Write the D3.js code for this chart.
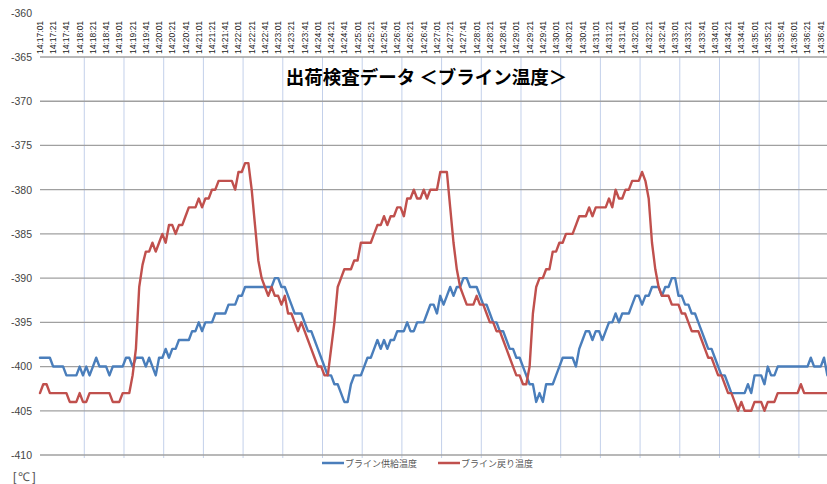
<!DOCTYPE html>
<html><head><meta charset="utf-8">
<script src="https://cdn.jsdelivr.net/npm/d3@7"></script>
<style>
html,body{margin:0;padding:0;background:#fff;}
svg{display:block;}
</style></head>
<body>
<svg id="chart" width="827" height="484"></svg>
<script>
// ---- data ----
const chartTitle = "出荷検査データ ＜ブライン温度＞";
const seriesNames = ["ブライン供給温度", "ブライン戻り温度"];
const unitLabel = "[℃]";
const timeLabels = [
"14:17:01","14:17:21","14:17:41","14:18:01","14:18:21","14:18:41","14:19:01","14:19:21","14:19:41","14:20:01",
"14:20:21","14:20:41","14:21:01","14:21:21","14:21:41","14:22:01","14:22:21","14:22:41","14:23:01","14:23:21",
"14:23:41","14:24:01","14:24:21","14:24:41","14:25:01","14:25:21","14:25:41","14:26:01","14:26:21","14:26:41",
"14:27:01","14:27:21","14:27:41","14:28:01","14:28:21","14:28:41","14:29:01","14:29:21","14:29:41","14:30:01",
"14:30:21","14:30:41","14:31:01","14:31:21","14:31:41","14:32:01","14:32:21","14:32:41","14:33:01","14:33:21",
"14:33:41","14:34:01","14:34:21","14:34:41","14:35:01","14:35:21","14:35:41","14:36:01","14:36:21","14:36:41"];
const yTicks = [-360,-365,-370,-375,-380,-385,-390,-395,-400,-405,-410];
const sampleStartTime = "14:17:01";
const sampleStepSeconds = 5;
const supplyTemp = [
-399,-399,-399,-399,-400,-400,-400,-400,-401,-401,
-401,-401,-400,-401,-400,-401,-400,-399,-400,-400,
-400,-401,-400,-400,-400,-400,-399,-399,-400,-399,
-399,-399,-400,-399,-400,-401,-399,-399,-398,-399,
-398,-398,-397,-397,-397,-397,-396,-396,-395,-396,
-395,-395,-395,-394,-394,-394,-394,-393,-393,-393,
-392,-392,-391,-391,-391,-391,-391,-391,-391,-391,
-391,-390,-390,-391,-391,-392,-393,-394,-394,-394,
-395,-396,-396,-397,-398,-399,-400,-401,-401,-402,
-402,-403,-404,-404,-402,-401,-401,-401,-400,-399,
-399,-398,-397,-398,-397,-398,-397,-397,-396,-396,
-396,-395,-396,-396,-395,-395,-395,-394,-393,-393,
-394,-392,-393,-392,-391,-392,-391,-391,-390,-390,
-391,-391,-391,-392,-393,-393,-394,-395,-395,-396,
-396,-397,-398,-398,-399,-399,-400,-401,-402,-402,
-404,-403,-404,-402,-402,-402,-401,-400,-399,-399,
-399,-399,-400,-398,-397,-396,-396,-397,-396,-396,
-397,-396,-395,-395,-394,-395,-394,-394,-394,-393,
-392,-392,-393,-392,-392,-391,-391,-391,-392,-391,
-391,-390,-390,-392,-392,-393,-393,-394,-394,-395,
-396,-397,-398,-398,-399,-400,-401,-401,-402,-403,
-403,-403,-403,-403,-402,-403,-401,-401,-401,-402,
-400,-401,-401,-400,-400,-400,-400,-400,-400,-400,
-400,-400,-400,-399,-400,-400,-400,-399,-401];
const returnTemp = [
-403,-402,-402,-403,-403,-403,-403,-403,-403,-404,
-404,-404,-403,-404,-404,-403,-403,-403,-403,-403,
-403,-403,-404,-404,-404,-403,-403,-403,-401,-398,
-391,-388.5,-387,-387,-386,-387,-386,-385,-386,-384,
-384,-385,-384,-384,-383,-382,-382,-382,-381,-382,
-381,-381,-380,-380,-379,-379,-379,-379,-379,-380,
-378,-378,-377,-377,-380,-384,-388,-390,-391,-392,
-391,-392,-392,-393,-392,-394,-394,-395,-396,-395,
-396,-397,-398,-399,-400,-400,-401,-401,-398,-395,
-391,-390,-389,-389,-389,-388,-388,-386,-386,-386,
-386,-385,-384,-384,-383,-384,-383,-383,-382,-382,
-383,-381,-381,-380,-381,-381,-380,-381,-380,-380,
-380,-378,-378,-378,-382,-386,-389,-391,-392,-393,
-393,-393,-392,-393,-393,-394,-395,-395,-396,-396,
-397,-398,-399,-400,-401,-401,-402,-402,-400,-394,
-391,-390,-390,-389,-389,-387,-387,-386,-386,-385,
-385,-385,-384,-383,-383,-383,-382,-383,-382,-382,
-382,-382,-381,-382,-380,-381,-381,-380,-380,-379,
-379,-379,-378,-379,-381,-386,-389,-391,-392,-392,
-392,-393,-393,-393,-394,-394,-395,-396,-396,-396,
-397,-398,-399,-399,-400,-401,-401,-402,-403,-403,
-404,-405,-404,-405,-405,-405,-404,-404,-404,-405,
-404,-404,-404,-403,-403,-403,-403,-403,-403,-403,
-402,-403,-403,-403,-403,-403,-403,-403,-403];
const seriesColors = ["#4a7ebb", "#c0504d"];

// ---- helpers ----
function secs(s){ const p = s.split(":").map(Number); return (p[0]-14)*3600 + (p[1]-17)*60 + p[2]; }
const t0 = secs(sampleStartTime);

const svg = d3.select("#chart");
const W = 827, H = 484;
svg.append("rect").attr("width", W).attr("height", H).attr("fill", "#fff");

const x = d3.scaleLinear().domain([0, 1200]).range([39.3, 833.3]);
const y = d3.scaleLinear().domain([-410, -360]).range([455, 12.8]);

// vertical grid (every minute)
const vGrid = d3.range(68, 1200, 60);
svg.append("g").selectAll("line").data(vGrid).join("line")
  .attr("x1", d => x(d)).attr("x2", d => x(d))
  .attr("y1", y(-365)).attr("y2", y(-410) + 3)
  .attr("stroke", "#c3d0ea").attr("stroke-width", 1);

// horizontal grid
svg.append("g").selectAll("line").data(yTicks.filter(v => v !== -360)).join("line")
  .attr("x1", 40).attr("x2", W)
  .attr("y1", d => y(d)).attr("y2", d => y(d))
  .attr("stroke", "#a0a0a0").attr("stroke-width", 1.3);

// y axis labels
const yAxis = d3.axisLeft(y).tickValues(yTicks).tickSize(0).tickPadding(0).tickFormat(d => String(d));
const ya = svg.append("g").attr("transform", "translate(32,0)").call(yAxis);
ya.select(".domain").remove();
ya.selectAll("text").attr("font-family", "Liberation Sans, Arial, sans-serif")
  .attr("font-size", 10.5).attr("fill", "#444");

// top category labels (rotated)
svg.append("g").selectAll("text").data(timeLabels).join("text")
  .attr("transform", d => `translate(${x(secs(d))},54) rotate(-90)`)
  .attr("dy", "0.35em")
  .attr("text-anchor", "start")
  .attr("font-family", "Liberation Sans, Arial, sans-serif")
  .attr("font-size", 8.5).attr("fill", "#222")
  .text(d => d);

// lines
const sampleX = (d, i) => x(t0 + i * sampleStepSeconds);
const line = d3.line().x((d, i) => sampleX(d, i)).y(d => y(d));
[supplyTemp, returnTemp].forEach((s, si) => {
  svg.append("path").datum(s)
    .attr("d", line)
    .attr("fill", "none")
    .attr("stroke", seriesColors[si])
    .attr("stroke-width", 2.4)
    .attr("stroke-linejoin", "round")
    .attr("stroke-linecap", "round");
});

// title
svg.append("text").attr("x", 426.5).attr("y", 84)
  .attr("text-anchor", "middle")
  .attr("font-family", "Noto Sans CJK JP, sans-serif")
  .attr("font-weight", "bold").attr("font-size", 18.5).attr("fill", "#000")
  .text(chartTitle);

// legend
const legendX = [322, 438];
seriesNames.forEach((n, i) => {
  svg.append("line").attr("x1", legendX[i]).attr("x2", legendX[i] + 22)
    .attr("y1", 463).attr("y2", 463)
    .attr("stroke", seriesColors[i]).attr("stroke-width", 2.5);
  svg.append("text").attr("x", legendX[i] + 23).attr("y", 466.5)
    .attr("font-family", "Noto Sans CJK JP, sans-serif")
    .attr("font-size", 9).attr("fill", "#555")
    .text(n);
});

// unit label
svg.append("text").attr("x", 13).attr("y", 481)
  .attr("font-family", "Liberation Sans, Arial, sans-serif")
  .attr("font-size", 12).attr("fill", "#555").attr("letter-spacing", 2)
  .text(unitLabel);
</script>
</body></html>
